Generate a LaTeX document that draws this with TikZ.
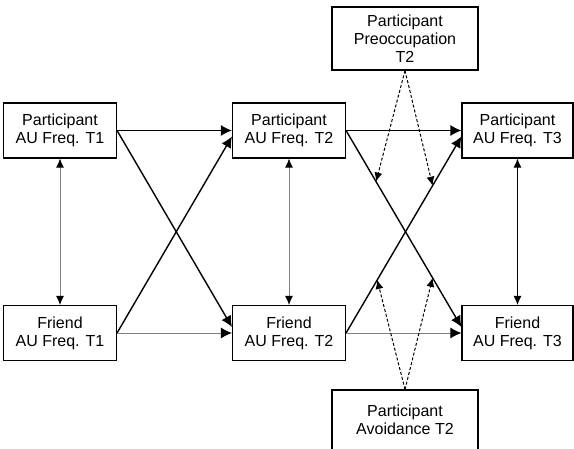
\documentclass[tikz,border=0pt]{standalone}
\usepackage{fontspec}
\setsansfont{Liberation Sans}
\usetikzlibrary{arrows.meta}
\usetikzlibrary{shapes}

\begin{document}
\begin{tikzpicture}[x = 1pt, y = -1pt, font=\sffamily\fontsize{16}{18}\selectfont]
	\tikzstyle{boxStyle} = [shape = rectangle, draw, line width = 1.1pt, minimum width = 113pt, minimum height = 55pt, inner sep = 0pt, align = center]
	\tikzstyle{wideStyle} = [boxStyle, minimum width = 146pt, minimum height = 63pt]
	\tikzstyle{pathStyle} = [line width = 1.4pt, -{Latex[length = 11pt, width = 11pt]}]
	\tikzstyle{greyStyle} = [line width = 1pt, black!50, -{Latex[length = 11pt, width = 11pt, color = black]}]
	\tikzstyle{corrStyle} = [line width = 1pt, black!50, {Latex[length = 9pt, width = 8pt, color = black]}-{Latex[length = 9pt, width = 8pt, color = black]}]
	\tikzstyle{modStyle} = [line width = 1pt, dashed, dash pattern = on 3pt off 2pt, -{Latex[length = 9pt, width = 8pt]}]
	\useasboundingbox (0, 0) rectangle (574, 448);
	\node[boxStyle] (p1) at (60, 130.5) {Participant\\AU Freq. T1};
	\node[boxStyle] (f1) at (60, 333) {Friend\\AU Freq. T1};
	\node[boxStyle] (p2) at (289, 130.5) {Participant\\AU Freq. T2};
	\node[boxStyle] (f2) at (289, 333) {Friend\\AU Freq. T2};
	\node[boxStyle, minimum width = 111pt] (p3) at (517.5, 130.5) {Participant\\AU Freq. T3};
	\node[boxStyle, minimum width = 111pt] (f3) at (517.5, 333) {Friend\\AU Freq. T3};
	\node[wideStyle] (pr2) at (405, 38.5) {Participant\\Preoccupation\\T2};
	\node[wideStyle, minimum height = 60pt] (av2) at (405, 420) {Participant\\Avoidance T2};
	\draw[corrStyle] (p1) -- (f1);
	\draw[corrStyle] (p2) -- (f2);
	\draw[corrStyle, black] (p3) -- (f3);
	\draw[pathStyle] (p1.east) -- (p2.west);
	\draw[pathStyle] (p1.east) -- ([yshift = 6pt]f2.west);
	\draw[pathStyle] (f1.east) -- ([yshift = -6pt]p2.west);
	\draw[greyStyle] (f1.east) -- (f2.west);
	\draw[pathStyle] (p2.east) -- (p3.west);
	\draw[pathStyle] (p2.east) -- ([yshift = 6pt]f3.west) coordinate[pos = 0.26] (m1) coordinate[pos = 0.75] (m4);
	\draw[pathStyle] (f2.east) -- ([yshift = -6pt]p3.west) coordinate[pos = 0.27] (m3) coordinate[pos = 0.75] (m2);
	\draw[greyStyle] (f2.east) -- (f3.west);
	\draw[modStyle] (pr2.south) -- (m1);
	\draw[modStyle] (pr2.south) -- (m2);
	\draw[modStyle] (av2.north) -- (m3);
	\draw[modStyle] (av2.north) -- (m4);
\end{tikzpicture}
\end{document}
